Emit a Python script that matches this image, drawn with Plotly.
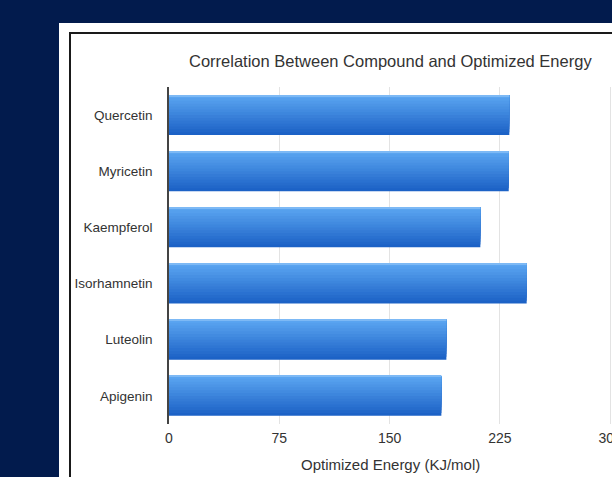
import plotly.graph_objects as go

# Optimized energy per compound (KJ/mol)
compounds = ["Quercetin", "Myricetin", "Kaempferol", "Isorhamnetin", "Luteolin", "Apigenin"]
energy = [231.4, 231.0, 211.7, 243.2, 188.6, 185.2]
x_ticks = [0, 75, 150, 225, 300]

W, H = 612, 477
L, R, T, B = 169, 0, 87, 53
plot_w = W - L - R
plot_h = H - T - B

BAR_W = 0.71          # fraction of the category band filled by a bar
N_LAYERS = 14         # stacked slices that build the vertical shading
top_rgb = (90, 164, 240)
bot_rgb = (28, 98, 198)


def mix(a, b, t):
    return "rgb(%d,%d,%d)" % tuple(round(a[k] + (b[k] - a[k]) * t) for k in range(3))


fig = go.Figure()
# Each layer covers the bar from its top edge downwards; later layers are
# shorter and lighter, giving a light-top / dark-bottom gradient.
for i in range(N_LAYERS):
    frac = 1 - i / N_LAYERS
    fig.add_trace(go.Bar(
        x=energy,
        y=compounds,
        orientation="h",
        width=BAR_W * frac,
        offset=-BAR_W / 2,
        marker=dict(color=mix(bot_rgb, top_rgb, i / (N_LAYERS - 1)), line=dict(width=0)),
        showlegend=False,
        hoverinfo="skip" if i else "x+y",
    ))

# faint highlight along the top edge of every bar
fig.add_trace(go.Bar(
    x=energy, y=compounds, orientation="h",
    width=0.018, offset=-BAR_W / 2,
    marker=dict(color="rgb(125,185,245)", line=dict(width=0)),
    showlegend=False, hoverinfo="skip",
))


def px_x(p):
    return (p - L) / plot_w


def px_y(p):
    return (H - B - p) / plot_h


# white slide panel and its dark frame
fig.add_shape(type="rect", xref="paper", yref="paper", layer="below",
              x0=px_x(59), x1=px_x(700), y0=px_y(600), y1=px_y(23),
              fillcolor="white", line=dict(width=0))
fig.add_shape(type="line", xref="paper", yref="paper", layer="below",
              x0=px_x(70), x1=px_x(70), y0=px_y(600), y1=px_y(33),
              line=dict(color="#1a1a1a", width=2))
fig.add_shape(type="line", xref="paper", yref="paper", layer="below",
              x0=px_x(69), x1=px_x(700), y0=px_y(33), y1=px_y(33),
              line=dict(color="#1a1a1a", width=2))

fig.add_annotation(text="Correlation Between Compound and Optimized Energy",
                   xref="paper", yref="paper", x=0.5, y=px_y(61),
                   xanchor="center", yanchor="middle", showarrow=False,
                   font=dict(size=16.5, color="#333333"))
fig.add_annotation(text="Optimized Energy (KJ/mol)",
                   xref="paper", yref="paper", x=0.5, y=px_y(464),
                   xanchor="center", yanchor="middle", showarrow=False,
                   font=dict(size=15, color="#333333"))

fig.update_layout(
    width=W, height=H,
    margin=dict(l=L, r=R, t=T, b=B, pad=0, autoexpand=False),
    paper_bgcolor="#021b4d",
    plot_bgcolor="rgba(0,0,0,0)",
    barmode="overlay",
    font=dict(family="Liberation Sans, Arial, Helvetica, sans-serif", color="#333333"),
    xaxis=dict(
        range=[0, plot_w / 1.4707],
        tickvals=x_ticks,
        ticktext=[str(v) for v in x_ticks],
        showgrid=True, gridcolor="#e3e3e3", gridwidth=1,
        zeroline=False, showline=False, automargin=False,
        ticks="", ticklabelstandoff=4, ticklabeloverflow="allow",
        tickfont=dict(size=14, color="#333333"),
        fixedrange=True,
    ),
    yaxis=dict(
        categoryorder="array", categoryarray=compounds,
        autorange="reversed", automargin=False,
        showgrid=False, zeroline=False,
        showline=True, linecolor="#444444", linewidth=1.5,
        ticks="", ticklabelstandoff=12,
        tickfont=dict(size=13.5, color="#333333"),
        fixedrange=True,
    ),
)

fig.write_html("out.html")
